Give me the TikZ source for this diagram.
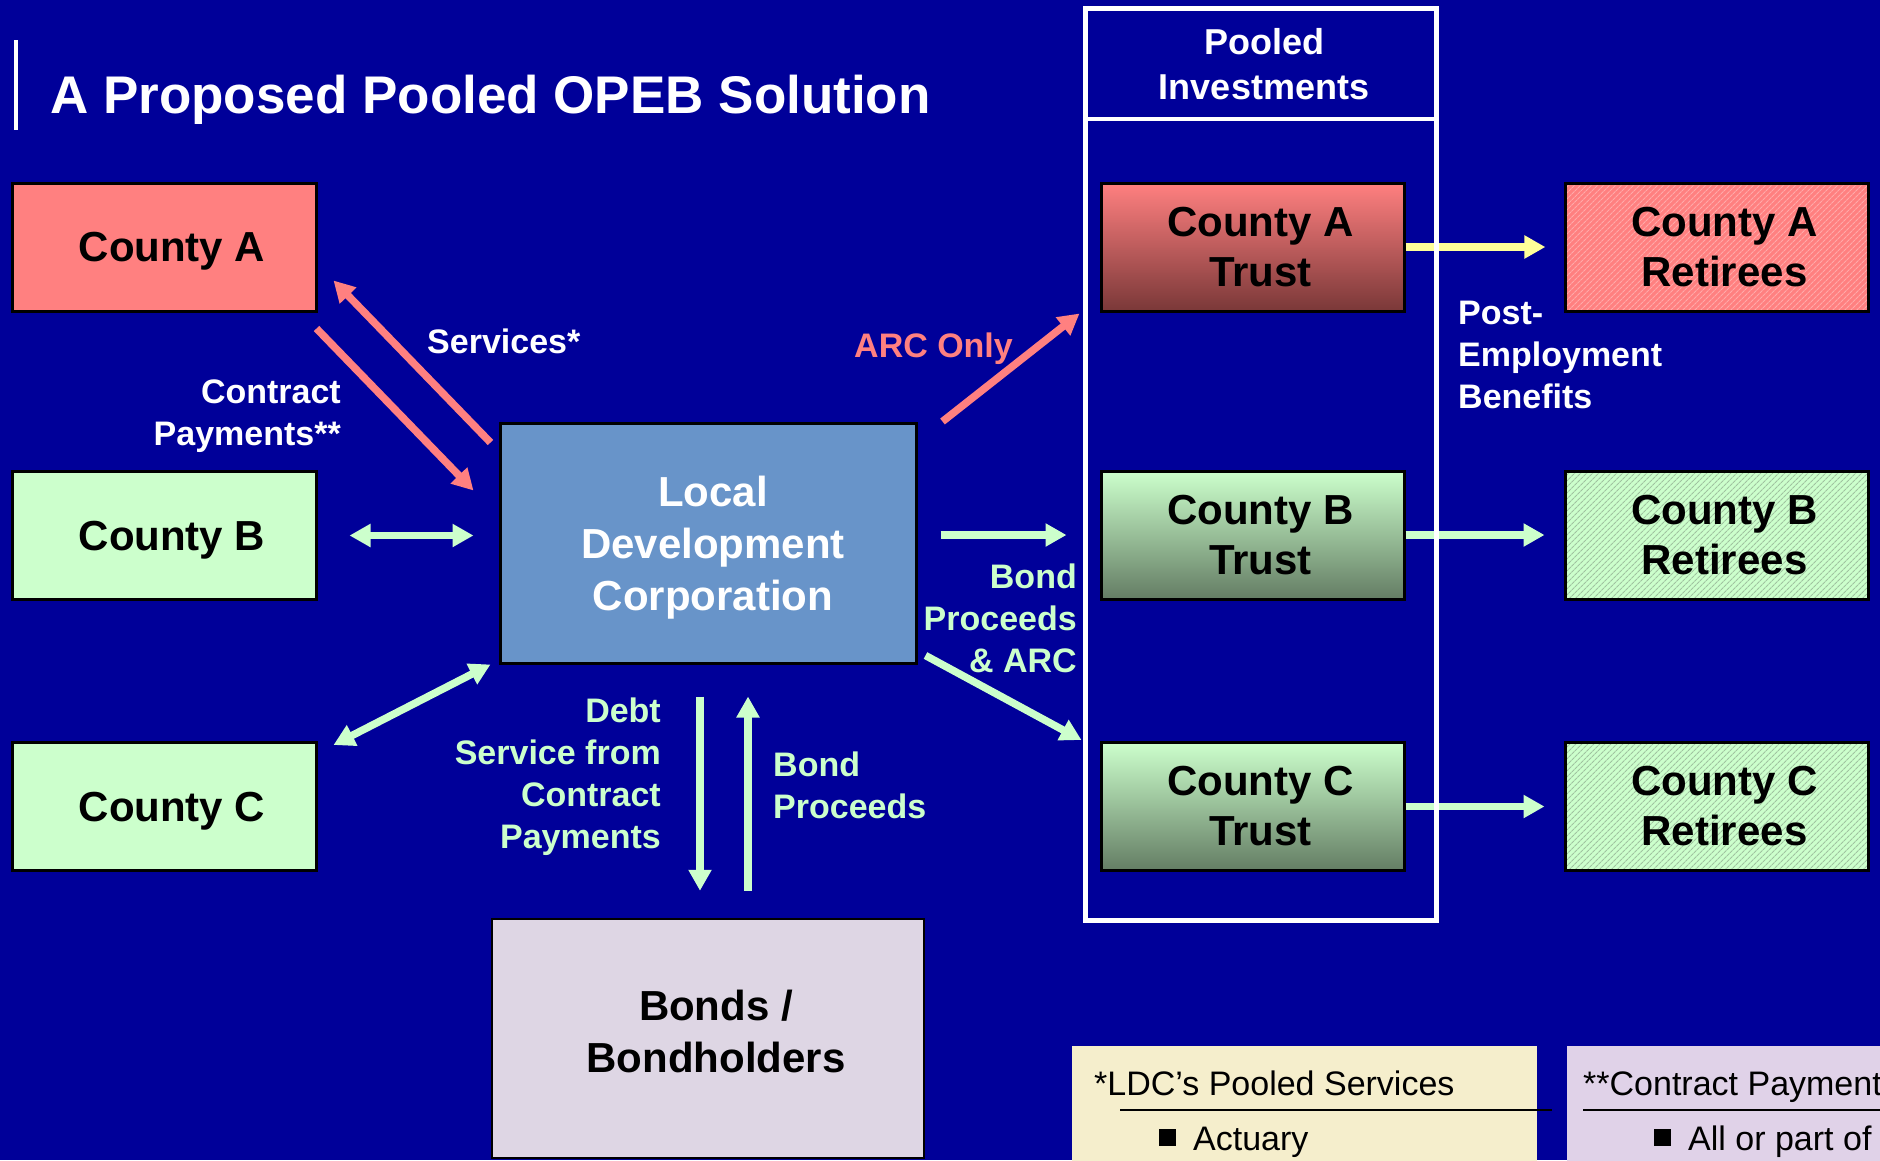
\documentclass[tikz,border=0pt]{standalone}
\usepackage{fontspec}
\setmainfont{Liberation Sans}
\usetikzlibrary{arrows.meta,calc,patterns.meta}
\definecolor{cBg}{RGB}{0,0,153}
\definecolor{cSalmon}{RGB}{255,128,128}
\definecolor{cMint}{RGB}{204,255,204}
\definecolor{cLdc}{RGB}{104,148,201}
\definecolor{cLav}{RGB}{222,214,228}
\definecolor{cYel}{RGB}{255,255,153}
\definecolor{cDarkSalmon}{RGB}{122,56,56}
\definecolor{cDarkMint}{RGB}{100,125,100}
\definecolor{cHatchA}{RGB}{255,170,170}
\definecolor{cHatchB}{RGB}{160,195,160}
\definecolor{cCream}{RGB}{245,238,204}
\definecolor{cLilac}{RGB}{224,210,232}
\newcommand\bxs{\hspace*{16pt}}
\begin{document}
\begin{tikzpicture}[x=1pt,y=-1pt,
  box/.style={draw=black,line width=3pt,inner sep=0pt,align=center,text=black,
    font=\fontsize{42}{50}\selectfont\bfseries,minimum width=304pt,minimum height=128pt},
  lbl/.style={inner sep=0pt,font=\fontsize{34}{42}\selectfont\bfseries},
  arr/.style={line width=7.5pt,-{Triangle[length=21pt,width=22pt]}},
  darr/.style={line width=7.5pt,{Triangle[length=21pt,width=22pt]}-{Triangle[length=21pt,width=22pt]}},
  hatch/.style={pattern={Lines[angle=45,distance=4pt,line width=1.2pt]}},
  note/.style={inner sep=0pt,anchor=base west,text=black,font=\fontsize{34}{41}\selectfont}
]
\fill[cBg] (0,0) rectangle (1880,1160);
\useasboundingbox (0,0) rectangle (1880,1160);
\clip (0,0) rectangle (1880,1160);

% title
\draw[white,line width=4pt] (16,40) -- (16,130);
\node[anchor=base west,inner sep=0pt,text=white,font=\fontsize{53}{60}\selectfont\bfseries] (title) at (50,113) {A Proposed Pooled OPEB Solution};

% left column
\node[box,fill=cSalmon,text depth=0pt] (ca) at (164,247) {\bxs County A};
\node[box,fill=cMint,text depth=0pt] (cb) at (164,535.5) {\bxs County B};
\node[box,fill=cMint,text depth=0pt] (cc) at (164,806.5) {\bxs County C};

% center
\node[box,fill=cLdc,minimum width=416pt,minimum height=240pt] (ldc) at (708,543) {};
\node[inner sep=0pt,align=center,text=white,font=\fontsize{42}{52}\selectfont\bfseries] (ldctxt) at (713,548) {Local\\Development\\Corporation};
\node[box,fill=cLav,line width=2.5pt,minimum width=432pt,minimum height=239pt] (bonds) at (708,1038.5) {};
\node[inner sep=0pt,align=center,font=\fontsize{42}{52}\selectfont\bfseries] (bondstxt) at (716,1031) {Bonds /\\Bondholders};

% trusts
\node[box,minimum width=303pt,top color=cSalmon,bottom color=cDarkSalmon] (ta) at (1252.5,247) {\bxs County A\\\bxs Trust};
\node[box,minimum width=303pt,top color=cMint,bottom color=cDarkMint] (tb) at (1252.5,535) {\bxs County B\\\bxs Trust};
\node[box,minimum width=303pt,top color=cMint,bottom color=cDarkMint] (tc) at (1252.5,806.5) {\bxs County C\\\bxs Trust};

% retirees
\node[box,minimum width=303pt,preaction={fill=cSalmon},hatch,pattern color=cHatchA] (ra) at (1716.5,247) {\bxs County A\\\bxs Retirees};
\node[box,minimum width=303pt,preaction={fill=cMint},hatch,pattern color=cHatchB] (rb) at (1716.5,535) {\bxs County B\\\bxs Retirees};
\node[box,minimum width=303pt,preaction={fill=cMint},hatch,pattern color=cHatchB] (rc) at (1716.5,806.5) {\bxs County C\\\bxs Retirees};

% arrows
\draw[arr,cSalmon] ($(ldc.north west)+(-8,21)$) -- ($(ca.south east)+(16,-32)$);
\draw[arr,cSalmon] ($(ca.south east)+(-1,16)$) -- ($(ldc.north west)+(-25,69)$);
\draw[darr,cMint] ($(cb.east)+(32,0)$) -- ($(cb.east -| ldc.west)+(-25,0)$);
\draw[darr,cMint] ($(cc.north east)+(16,4)$) -- ($(ldc.south west)+(-8,0)$);
\draw[arr,cSalmon] ($(ldc.north east)+(25,0)$) -- ($(ta.south west)+(-20,1)$);
\draw[arr,cMint] ($(ldc.east |- tb.west)+(23,0)$) -- ($(tb.west)+(-33,0)$);
\draw[arr,cMint] ($(ldc.south east)+(8,-9)$) -- ($(tc.north west)+(-18,-1)$);
\draw[arr,cMint] ($(ldc.south)+(-8,32)$) -- ($(bonds.north)+(-8,-27)$);
\draw[arr,cMint] ($(bonds.north)+(40,-27)$) -- ($(ldc.south)+(40,32)$);
\draw[arr,cYel,line width=8pt] (ta.east) -- ($(ra.west)+(-19,0)$);
\draw[arr,cMint] (tb.east) -- ($(rb.west)+(-19,0)$);
\draw[arr,cMint] (tc.east) -- ($(rc.west)+(-19,0)$);

% pooled frame
\node[draw=white,line width=4.5pt,minimum width=351pt,minimum height=912pt,inner sep=0pt,anchor=north west] (pool) at (1083,6) {};
\draw[white,line width=4.5pt] (pool.west |- 0,119) -- (pool.east |- 0,119);
\node[lbl,text=white,align=center,font=\fontsize{36}{45}\selectfont\bfseries] (pooltxt) at (1264,64) {Pooled\\Investments};

% labels
\node[lbl,text=white,anchor=base west] (lserv) at (427,353) {Services*};
\node[lbl,text=white,anchor=east,align=right] (lcontr) at (341,416) {Contract\\Payments**};
\node[lbl,text=cSalmon,anchor=base west] (larc) at (854,357) {ARC Only};
\node[lbl,text=cMint,anchor=east,align=right] (lbpa) at (1077,618) {Bond\\Proceeds\\\& ARC};
\node[lbl,text=cMint,anchor=east,align=right] (ldebt) at (661,777) {Debt\\Service from\\Contract\\Payments};
\node[lbl,text=cMint,anchor=west,align=left] (lbp) at (773,785) {Bond\\Proceeds};
\node[lbl,text=white,anchor=west,align=left] (lpost) at (1458,355) {Post-\\Employment\\Benefits};

% footnotes
\node[fill=cCream,inner sep=0pt,minimum width=465pt,minimum height=130pt,anchor=north west] (note1) at (1072,1046) {};
\node[note] (note1t) at (1094,1095) {*LDC’s Pooled Services};
\draw[black,line width=2.5pt] (1120,1110) -- (1552,1110);
\node[fill=black,inner sep=0pt,minimum size=17pt,anchor=north west] (b1) at (1159,1129) {};
\node[note] (note1a) at (1193,1150) {Actuary};
\node[fill=cLilac,inner sep=0pt,minimum width=340pt,minimum height=130pt,anchor=north west] (note2) at (1567,1046) {};
\node[note] (note2t) at (1583,1095) {**Contract Payments};
\draw[black,line width=2.5pt] (1583,1110) -- (1900,1110);
\node[fill=black,inner sep=0pt,minimum size=17pt,anchor=north west] (b2) at (1654,1129) {};
\node[note] (note2a) at (1688,1150) {All or part of};
\end{tikzpicture}
\end{document}
